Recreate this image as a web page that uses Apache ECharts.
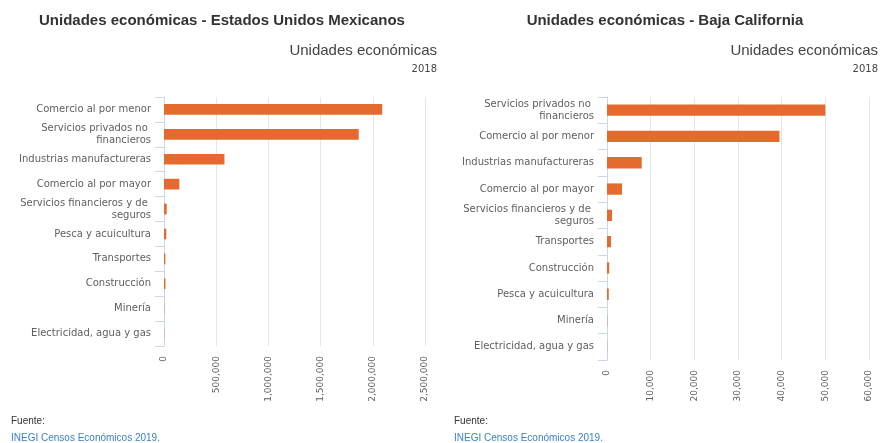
<!DOCTYPE html>
<html><head><meta charset="utf-8">
<script src="https://cdn.jsdelivr.net/npm/echarts@6/dist/echarts.min.js"></script>
<style>html,body{margin:0;padding:0;background:#fff}#c{width:882px;height:443px}</style>
</head><body><div id="c"></div>
<script>
const categoriesMX = ["Comercio al por menor","Servicios privados no financieros","Industrias manufactureras","Comercio al por mayor","Servicios financieros y de seguros","Pesca y acuicultura","Transportes","Construcción","Minería","Electricidad, agua y gas"];
const valuesMX = [2090000, 1865000, 579000, 147000, 26000, 22000, 13000, 14000, 3000, 2500];
const categoriesBC = ["Servicios privados no financieros","Comercio al por menor","Industrias manufactureras","Comercio al por mayor","Servicios financieros y de seguros","Transportes","Construcción","Pesca y acuicultura","Minería","Electricidad, agua y gas"];
const valuesBC = [50000, 39500, 7950, 3450, 1150, 920, 500, 400, 60, 40];
const ticksMX = [0, 500000, 1000000, 1500000, 2000000, 2500000];
const ticksBC = [0, 10000, 20000, 30000, 40000, 50000, 60000];
const titleMX = "Unidades económicas - Estados Unidos Mexicanos";
const titleBC = "Unidades económicas - Baja California";
const subtitle = "Unidades económicas";
const year = "2018";
const sourceLabel = "Fuente:";
const sourceText = "INEGI Censos Económicos 2019.";

const chart = echarts.init(document.getElementById('c'));
const fmt = v => Number(v).toLocaleString('en-US');
const barColor = '#e46b2d';
function yAxisCfg(cats, gi){
  return {type:'category', gridIndex:gi, data:cats, inverse:true,
    axisLine:{show:true, lineStyle:{color:'#ccd6eb', width:1}},
    axisTick:{show:true, length:9, lineStyle:{color:'#ccd6eb'}},
    axisLabel:{color:'#606060', fontFamily:'DejaVu Sans', fontSize:10, margin:13, lineHeight:12, width:135, overflow:'break'},
    splitLine:{show:false}};
}
function xAxisCfg(ticks, gi){
  return {type:'value', gridIndex:gi, min:ticks[0], max:ticks[ticks.length-1], interval:ticks[1]-ticks[0],
    axisLine:{show:false}, axisTick:{show:false},
    axisLabel:{rotate:90, color:'#606060', fontFamily:'DejaVu Sans', fontSize:9, margin:10, formatter:fmt},
    splitLine:{show:true, lineStyle:{color:'#e6e6e6', width:1}}};
}
function txt(x,y,text,opts){
  return {type:'text', x:x, y:y, style:Object.assign({text:text, textVerticalAlign:'middle'}, opts)};
}
chart.setOption({
  animation:false,
  grid:[{left:164, top:97, width:261, height:249},
        {left:607, top:97, width:262, height:263}],
  xAxis:[xAxisCfg(ticksMX,0), xAxisCfg(ticksBC,1)],
  yAxis:[yAxisCfg(categoriesMX,0), yAxisCfg(categoriesBC,1)],
  series:[
    {type:'bar', xAxisIndex:0, yAxisIndex:0, data:valuesMX, barWidth:'43%', itemStyle:{color:barColor}},
    {type:'bar', xAxisIndex:1, yAxisIndex:1, data:valuesBC, barWidth:'43%', itemStyle:{color:barColor}}
  ],
  graphic:[
    txt(222,21,titleMX,{textAlign:'center', font:'bold 15px "Liberation Sans"', fill:'#333'}),
    txt(665,21,titleBC,{textAlign:'center', font:'bold 15px "Liberation Sans"', fill:'#333'}),
    txt(437,51,subtitle,{textAlign:'right', font:'15px "Liberation Sans"', fill:'#444'}),
    txt(878,51,subtitle,{textAlign:'right', font:'15px "Liberation Sans"', fill:'#444'}),
    txt(437,69,year,{textAlign:'right', font:'10px "DejaVu Sans"', fill:'#444'}),
    txt(878,69,year,{textAlign:'right', font:'10px "DejaVu Sans"', fill:'#444'}),
    txt(11,421,sourceLabel,{textAlign:'left', font:'10px "Liberation Sans"', fill:'#333'}),
    txt(454,421,sourceLabel,{textAlign:'left', font:'10px "Liberation Sans"', fill:'#333'}),
    txt(11,438,sourceText,{textAlign:'left', font:'10px "Liberation Sans"', fill:'#3b7fc4'}),
    txt(454,438,sourceText,{textAlign:'left', font:'10px "Liberation Sans"', fill:'#3b7fc4'})
  ]
});
</script></body></html>
